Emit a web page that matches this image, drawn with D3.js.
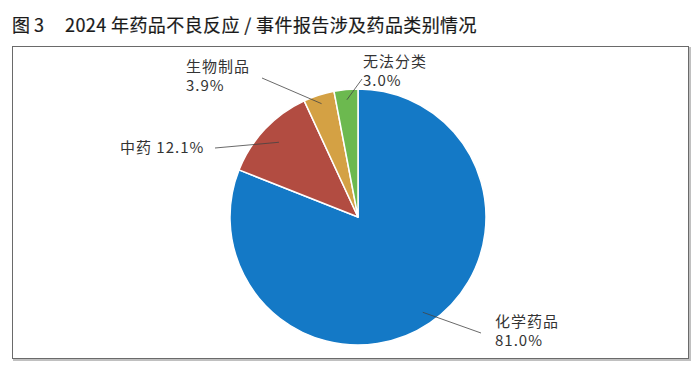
<!DOCTYPE html>
<meta charset="utf-8">
<script src="https://d3js.org/d3.v7.min.js"></script>
<style>
  body { margin: 0; background: #fff; }
  text { font-family: "Noto Sans CJK SC", "Noto Sans", sans-serif; }
</style>
<div id="chart"></div>
<script>
  // data
  const categories = ["化学药品", "中药", "生物制品", "无法分类"];
  const shares = [81.0, 12.1, 3.9, 3.0];
  const colors = ["#1479c6", "#b24c41", "#d4a144", "#6cb94f"];

  // label layout: text anchor, leader outer end, leader inner radius (fraction of r)
  const labelPos = [
    {x: 495, y: 327, lx: 481, ly: 333, k: 0.9, twoLines: true},
    {x: 120, y: 153, lx: 215, ly: 148, k: 0.85, twoLines: false},
    {x: 186, y: 72, lx: 262, ly: 78, k: 0.93, twoLines: true},
    {x: 363, y: 67, lx: 362, ly: 79, k: 0.92, twoLines: true}
  ];

  const width = 700, height = 370;
  const cx = 358, cy = 217, r = 128;

  const svg = d3.select("#chart").append("svg")
    .attr("width", width)
    .attr("height", height);

  // title (regular weight, thin stroke to look medium)
  const title = svg.append("g")
    .attr("font-size", 18).attr("font-weight", "normal")
    .attr("fill", "#1a1a1a")
    .attr("stroke", "#1a1a1a").attr("stroke-width", 0.2);
  title.append("text").attr("x", 12).attr("y", 32).text("图 3");
  title.append("text").attr("x", 65).attr("y", 32)
    .attr("letter-spacing", 0.4)
    .text("2024 年药品不良反应 / 事件报告涉及药品类别情况");

  // frame (light shadow on right/bottom)
  svg.append("rect")
    .attr("x", 14).attr("y", 48).attr("width", 676).attr("height", 312)
    .attr("fill", "none").attr("stroke", "#c0c0c0").attr("stroke-width", 2);
  svg.append("rect")
    .attr("x", 12.5).attr("y", 46.5).attr("width", 676).attr("height", 312)
    .attr("fill", "#fff").attr("stroke", "#6a6a6a").attr("stroke-width", 1);

  const data = categories.map((c, i) => ({name: c, value: shares[i], color: colors[i], pos: labelPos[i]}));

  const pie = d3.pie().sort(null).value(d => d.value);
  const arcs = pie(data);
  const arc = d3.arc().innerRadius(0).outerRadius(r);

  const g = svg.append("g").attr("transform", `translate(${cx},${cy})`);

  g.selectAll("path")
    .data(arcs)
    .join("path")
    .attr("d", arc)
    .attr("fill", d => d.data.color)
    .attr("stroke", "#fff")
    .attr("stroke-width", 1.5)
    .attr("stroke-linejoin", "round");

  // leader lines
  g.selectAll("line.leader")
    .data(arcs)
    .join("line")
    .attr("class", "leader")
    .attr("x1", d => {
      const a = (d.startAngle + d.endAngle) / 2;
      return Math.sin(a) * r * d.data.pos.k;
    })
    .attr("y1", d => {
      const a = (d.startAngle + d.endAngle) / 2;
      return -Math.cos(a) * r * d.data.pos.k;
    })
    .attr("x2", d => d.data.pos.lx - cx)
    .attr("y2", d => d.data.pos.ly - cy)
    .attr("stroke", "#444")
    .attr("stroke-width", 0.8);

  // labels
  const lab = svg.append("g")
    .attr("font-size", 15)
    .attr("fill", "#333")
    .attr("letter-spacing", 1);

  data.forEach(d => {
    const pct = d.value.toFixed(1) + "%";
    if (d.pos.twoLines) {
      lab.append("text").attr("x", d.pos.x).attr("y", d.pos.y).text(d.name);
      lab.append("text").attr("x", d.pos.x).attr("y", d.pos.y + 19).text(pct);
    } else {
      lab.append("text").attr("x", d.pos.x).attr("y", d.pos.y).text(d.name + " " + pct);
    }
  });
</script>
